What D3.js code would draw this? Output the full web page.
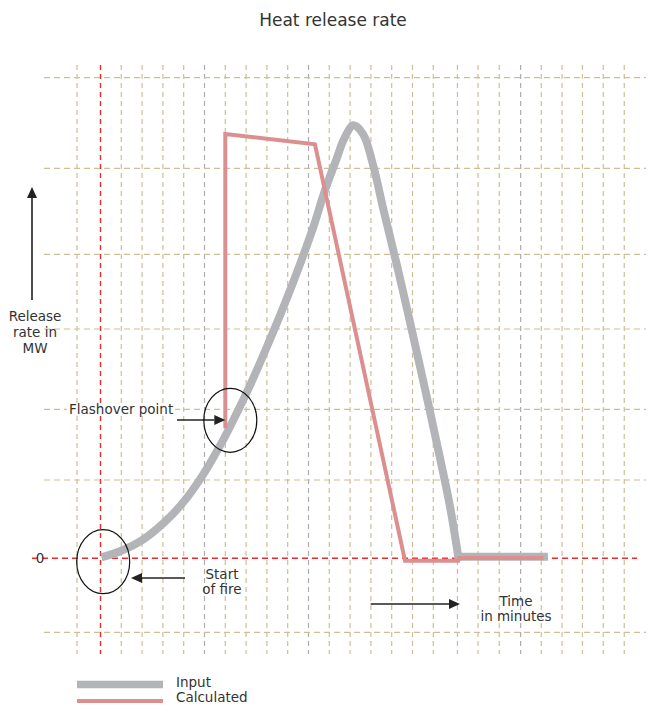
<!DOCTYPE html>
<html>
<head>
<meta charset="utf-8">
<script src="https://cdn.jsdelivr.net/npm/d3@7"></script>
<style>
  body { margin: 0; background: #fff; }
  text { font-family: "DejaVu Sans", Verdana, sans-serif; fill: #333; }
</style>
</head>
<body>
<svg id="chart" width="655" height="706"></svg>
<script>
// time in minutes (one grid step each), release rate in MW (arbitrary units)
var gridTimes = [-1.13, 0, 1, 2, 3, 4, 5, 6, 7, 8, 9, 10, 11, 12, 13, 14, 15, 16,
                 17.16, 18.15, 19.17, 20.2, 21.19, 22.19, 23.17, 24.17, 25.18];
var greyTimes = [5, 10, 20.2];
var gridRates = [48.06, 39, 30.4, 22.93, 14.9, 7.83, 0, -7.4];

// Input curve
var inputTime = [0.05, 0.94, 2.06, 3.02, 3.98, 4.94, 5.9, 6.38, 7.19, 7.99, 8.79, 9.59,
                 10.23, 10.79, 11.36, 11.7, 12.16, 12.63, 13.12, 13.6, 14.24, 14.72,
                 15.36, 16.16, 16.8, 17.2];
var inputRate = [0.1, 0.7, 1.9, 3.5, 5.6, 8.4, 11.85, 13.8, 17.3, 21.1, 25.1, 29.4,
                 33.1, 36.8, 40.0, 41.9, 43.3, 42.4, 39.2, 34.9, 29.4, 25.1,
                 19.2, 11.6, 5.2, 0.16];
var inputTailTime = 21.51;

// Calculated curve
var calcTime = [6.0, 6.0, 10.31, 14.64, 17.2, 17.25, 21.29];
var calcRate = [13.0, 42.43, 41.4, -0.24, -0.24, 0.04, 0.04];

var svg = d3.select("#chart");

var x = d3.scaleLinear().domain([0, 25]).range([100.5, 100.5 + 25 * 20.8]);
var y = d3.scaleLinear().domain([0, 48]).range([558.3, 558.3 - 480]);

var tan = "#cbbf96", red = "#ec2a2e", greyGrid = "#acacb0";

// vertical grid
svg.append("g").selectAll("line")
  .data(gridTimes)
  .enter()
  .append("line")
  .attr("x1", d => x(d)).attr("x2", d => x(d))
  .attr("y1", 65).attr("y2", 654)
  .attr("stroke", d => d === 0 ? red : (greyTimes.indexOf(d) >= 0 ? greyGrid : tan))
  .attr("stroke-width", d => d === 0 ? 1.4 : 1.2)
  .attr("stroke-dasharray", "5,4");

// horizontal grid
svg.append("g").selectAll("line")
  .data(gridRates)
  .enter()
  .append("line")
  .attr("x1", d => d === 0 ? 32 : 44)
  .attr("x2", d => d === 0 ? 637 : 646)
  .attr("y1", d => y(d)).attr("y2", d => y(d))
  .attr("stroke", d => d === 0 ? red : tan)
  .attr("stroke-width", d => d === 0 ? 1.4 : 1.2)
  .attr("stroke-dasharray", "6,4");

// input curve
var curveLine = d3.line()
  .x(d => x(d[0]))
  .y(d => y(d[1]))
  .curve(d3.curveCatmullRom.alpha(0.5));
var inputPts = inputTime.map((t, i) => [t, inputRate[i]]);
var last = inputPts[inputPts.length - 1];
svg.append("path")
  .attr("d", curveLine(inputPts) + "L" + x(inputTailTime) + "," + y(last[1]))
  .attr("fill", "none")
  .attr("stroke", "#b3b4b8")
  .attr("stroke-width", 8);

// calculated curve
var straight = d3.line().x(d => x(d[0])).y(d => y(d[1]));
svg.append("path")
  .attr("d", straight(calcTime.map((t, i) => [t, calcRate[i]])))
  .attr("fill", "none")
  .attr("stroke", "#db8f8f")
  .attr("stroke-width", 4);

// arrows
function arrow(x1, y1, x2, y2) {
  var a = Math.atan2(y2 - y1, x2 - x1), len = 11, w = 5;
  var bx = x2 - len * Math.cos(a), by = y2 - len * Math.sin(a);
  svg.append("line")
    .attr("x1", x1).attr("y1", y1).attr("x2", bx).attr("y2", by)
    .attr("stroke", "#222").attr("stroke-width", 1.6);
  svg.append("path")
    .attr("d", "M" + x2 + "," + y2 +
      "L" + (bx + w * Math.sin(a)) + "," + (by - w * Math.cos(a)) +
      "L" + (bx - w * Math.sin(a)) + "," + (by + w * Math.cos(a)) + "Z")
    .attr("fill", "#222");
}
arrow(32, 300, 32, 187);
arrow(177, 420, x(6.0), 420);
arrow(185, 578, 131, 578);
arrow(370.7, 604, 460, 604);

// ellipses
svg.append("ellipse")
  .attr("cx", x(6.24)).attr("cy", y(13.8))
  .attr("rx", 26.5).attr("ry", 32)
  .attr("fill", "none").attr("stroke", "#111").attr("stroke-width", 1.2);
svg.append("ellipse")
  .attr("cx", x(0.13)).attr("cy", y(-0.34))
  .attr("rx", 26.5).attr("ry", 32)
  .attr("fill", "none").attr("stroke", "#111").attr("stroke-width", 1.2);

// text
svg.append("text").attr("x", 333).attr("y", 26)
  .attr("text-anchor", "middle").style("font-size", "17px")
  .text("Heat release rate");

var ylab = svg.append("text").attr("text-anchor", "middle").style("font-size", "13.5px");
["Release", "rate in", "MW"].forEach((s, i) => {
  ylab.append("tspan").attr("x", 35).attr("y", 321 + i * 16).text(s);
});

svg.append("text").attr("x", 40).attr("y", 563)
  .attr("text-anchor", "middle").style("font-size", "13.5px").text("0");

var fl = svg.append("text").attr("x", 69).attr("y", 414)
  .style("font-size", "13.5px").text("Flashover point");
var bb = fl.node().getBBox();
svg.insert("rect", "text")
  .attr("x", bb.x - 2).attr("y", bb.y + 2)
  .attr("width", bb.width + 4).attr("height", bb.height - 4)
  .attr("fill", "#fff");

var sf = svg.append("text").attr("text-anchor", "middle").style("font-size", "13.5px");
sf.append("tspan").attr("x", 222).attr("y", 579).text("Start");
sf.append("tspan").attr("x", 222).attr("y", 594).text("of fire");

var tm = svg.append("text").attr("text-anchor", "middle").style("font-size", "13.5px");
tm.append("tspan").attr("x", 516).attr("y", 606).text("Time");
tm.append("tspan").attr("x", 516).attr("y", 621).text("in minutes");

// legend
svg.append("line").attr("x1", 77).attr("x2", 163).attr("y1", 684.5).attr("y2", 684.5)
  .attr("stroke", "#b3b4b8").attr("stroke-width", 7.5);
svg.append("line").attr("x1", 77).attr("x2", 163).attr("y1", 701).attr("y2", 701)
  .attr("stroke", "#db8f8f").attr("stroke-width", 4);
svg.append("text").attr("x", 176).attr("y", 687).style("font-size", "13.5px").text("Input");
svg.append("text").attr("x", 176).attr("y", 702).style("font-size", "13.5px").text("Calculated");
</script>
</body>
</html>
